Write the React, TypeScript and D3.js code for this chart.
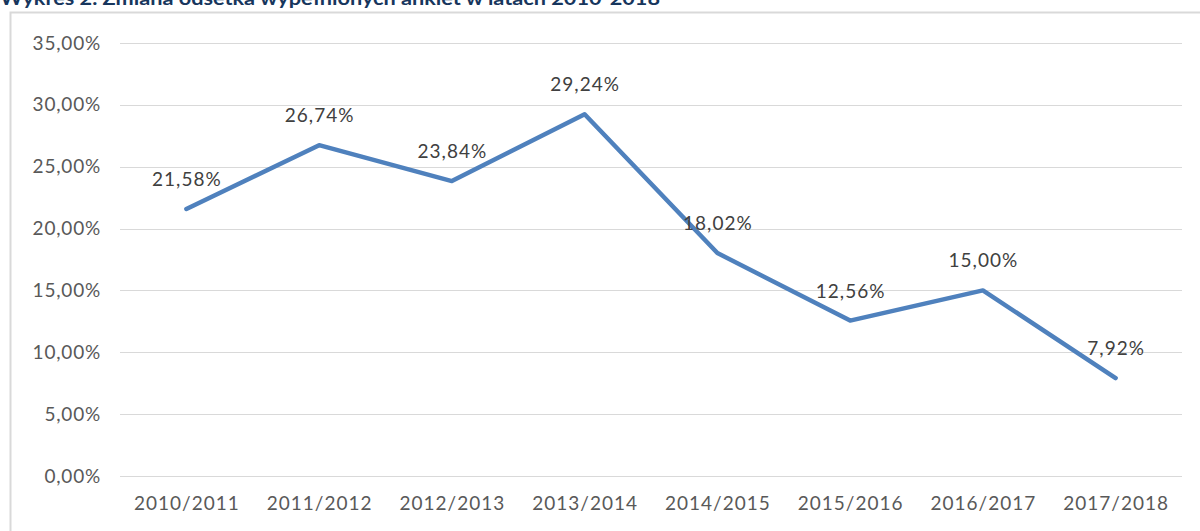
import React from "react";
import * as d3 from "d3";

const title = "Wykres 2. Zmiana odsetka wypełnionych ankiet w latach 2010-2018";
const categories = ["2010/2011", "2011/2012", "2012/2013", "2013/2014", "2014/2015", "2015/2016", "2016/2017", "2017/2018"];
const values = [21.58, 26.74, 23.84, 29.24, 18.02, 12.56, 15.0, 7.92];
const yTicks = [0, 5, 10, 15, 20, 25, 30, 35];

const W = 1200;
const H = 531;
const FONT = "Lato, 'Open Sans', sans-serif";

const fmt = (v: number) => v.toFixed(2).replace(".", ",") + "%";

export default function App() {
  const x = d3.scaleBand<string>().domain(categories).range([120, 1182]);
  const y = d3.scaleLinear().domain([0, 35]).range([476, 43]);
  const cx = (c: string) => (x(c) ?? 0) + x.bandwidth() / 2;
  const line = d3
    .line<number>()
    .x((_, i) => cx(categories[i]))
    .y((d) => y(d));

  return (
    <svg width={W} height={H} style={{ position: "absolute", left: 0, top: 0, background: "#fff" }}>
      <rect x={0} y={0} width={W} height={H} fill="#fff" />
      <text x={0} y={5} fontFamily={FONT} fontWeight="bold" fontSize={18} fill="#17365d" textLength={660} lengthAdjust="spacingAndGlyphs">
        {title}
      </text>
      <path d={`M10.5,${H + 5} V12.5 H${W + 5}`} fill="none" stroke="#d9d9d9" strokeWidth={2} />
      {yTicks.map((t) => (
        <g key={t}>
          <line x1={120} x2={1182} y1={Math.round(y(t)) + 0.5} y2={Math.round(y(t)) + 0.5} stroke="#d9d9d9" strokeWidth={1} />
          <text x={101} y={y(t) + 6.5} textAnchor="end" fontFamily={FONT} fontSize={19} letterSpacing={0.8} fill="#595959">
            {fmt(t)}
          </text>
        </g>
      ))}
      {categories.map((c) => (
        <text key={c} x={cx(c) + 0.5} y={510} textAnchor="middle" fontFamily={FONT} fontSize={19} letterSpacing={1} fill="#595959">
          {c}
        </text>
      ))}
      <path d={line(values) ?? ""} fill="none" stroke="#4f81bd" strokeWidth={4.5} strokeLinejoin="round" strokeLinecap="round" />
      {values.map((v, i) => (
        <text key={i} x={cx(categories[i]) + 0.5} y={y(v) - 23} textAnchor="middle" fontFamily={FONT} fontSize={19} letterSpacing={1} fill="#404040">
          {fmt(v)}
        </text>
      ))}
    </svg>
  );
}
